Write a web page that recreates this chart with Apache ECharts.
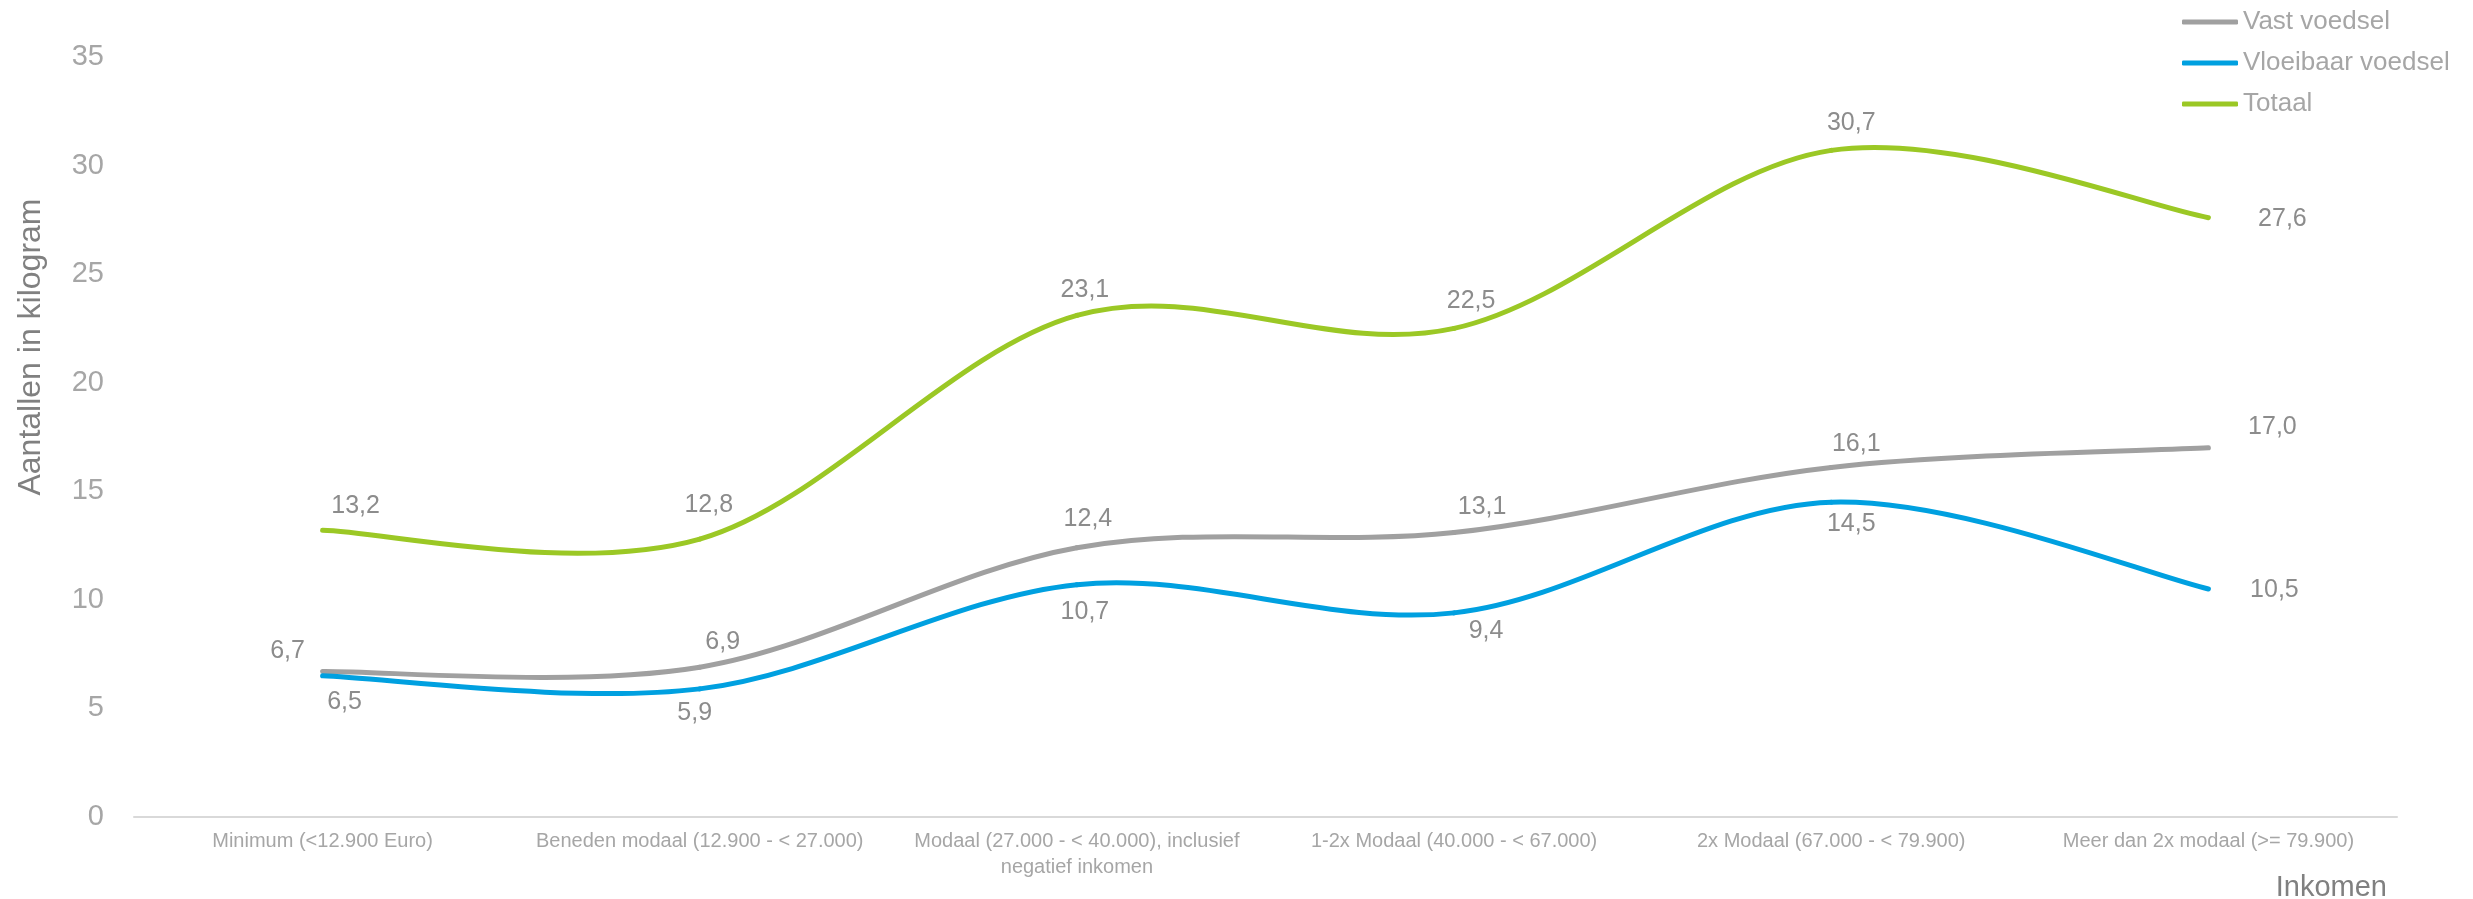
<!DOCTYPE html>
<html>
<head>
<meta charset="utf-8">
<script src="https://cdn.jsdelivr.net/npm/echarts@6/dist/echarts.min.js"></script>
<style>
html, body { margin: 0; padding: 0; background: #fff; }
#chart { width: 2473px; height: 899px; }
</style>
</head>
<body>
<div id="chart"></div>
<script>
// categorieen (inkomen)
var categories = [
    'Minimum (<12.900 Euro)',
    'Beneden modaal (12.900 - < 27.000)',
    'Modaal (27.000 - < 40.000), inclusief\nnegatief inkomen',
    '1-2x Modaal (40.000 - < 67.000)',
    '2x Modaal (67.000 - < 79.900)',
    'Meer dan 2x modaal (>= 79.900)'
];
var yTicks = [0, 5, 10, 15, 20, 25, 30, 35];

// waarden in kilogram
var vastVoedsel = [6.7, 6.9, 12.4, 13.1, 16.1, 17.0];
var vloeibaarVoedsel = [6.5, 5.9, 10.7, 9.4, 14.5, 10.5];
var totaal = [13.2, 12.8, 23.1, 22.5, 30.7, 27.6];

// plaats van de labels t.o.v. het punt (px)
var vastOffsets = [[-35, -20], [23, -25], [11, -29], [28, -25], [25, -23], [64, -21]];
var vloeibaarOffsets = [[22, 26], [-5, 24], [8, 27], [32, 18], [20, 22], [66, 1]];
var totaalOffsets = [[33, -24], [9, -34], [8, -25], [17, -27], [20, -27], [74, 1]];

var FONT = '"Liberation Sans", Arial, sans-serif';
var colors = { vast: '#A0A0A0', vloeibaar: '#00A0E0', totaal: '#9BC825' };

function buildData(values, offsets) {
    return values.map(function(v, i) {
        return { value: v, label: { offset: offsets[i] } };
    });
}

// lijn + labels (de lijn zelf wordt door de custom serie getekend)
function makeSeries(name, values, offsets, color) {
    return {
        name: name,
        type: 'line',
        data: buildData(values, offsets),
        symbol: 'circle',
        symbolSize: 0,
        lineStyle: { color: color, width: 0 },
        itemStyle: { color: color },
        z: 3,
        label: {
            show: true,
            position: 'inside',
            color: '#8C8C8C',
            fontFamily: FONT,
            fontSize: 25,
            formatter: function(p) {
                return p.value.toFixed(1).replace('.', ',');
            }
        }
    };
}

// vloeiende lijn zoals in Excel (Catmull-Rom), punten via api.coord
function makeCurve(id, values, color) {
    return {
        id: id,
        type: 'custom',
        data: values.map(function(v, i) { return [i, v]; }),
        encode: { x: 0, y: 1 },
        silent: true,
        z: 2,
        renderItem: function(params, api) {
            if (params.dataIndex !== 0) return null;
            var pts = values.map(function(v, i) { return api.coord([i, v]); });
            var children = [];
            for (var i = 0; i < pts.length - 1; i++) {
                var p0 = pts[i - 1] || pts[i];
                var p1 = pts[i];
                var p2 = pts[i + 1];
                var p3 = pts[i + 2] || p2;
                children.push({
                    type: 'bezierCurve',
                    shape: {
                        x1: p1[0], y1: p1[1],
                        x2: p2[0], y2: p2[1],
                        cpx1: p1[0] + (p2[0] - p0[0]) / 6,
                        cpy1: p1[1] + (p2[1] - p0[1]) / 6,
                        cpx2: p2[0] - (p3[0] - p1[0]) / 6,
                        cpy2: p2[1] - (p3[1] - p1[1]) / 6
                    },
                    style: { fill: null, stroke: color, lineWidth: 5, lineCap: 'round' }
                });
            }
            return { type: 'group', children: children };
        }
    };
}

var myEchart = echarts.init(document.getElementById('chart'));
var option = {
    animation: false,
    backgroundColor: '#fff',
    grid: { left: 134, right: 76, top: 57, bottom: 82 },
    legend: {
        orient: 'vertical',
        left: 2177,
        top: 2,
        itemWidth: 56,
        itemHeight: 5,
        itemGap: 11,
        icon: 'roundRect',
        textStyle: { color: '#A6A6A6', fontFamily: FONT, fontSize: 26, lineHeight: 30 },
        data: [
            { name: 'Vast voedsel', itemStyle: { color: colors.vast, borderWidth: 0 } },
            { name: 'Vloeibaar voedsel', itemStyle: { color: colors.vloeibaar, borderWidth: 0 } },
            { name: 'Totaal', itemStyle: { color: colors.totaal, borderWidth: 0 } }
        ]
    },
    xAxis: {
        type: 'category',
        data: categories,
        boundaryGap: true,
        axisLine: { lineStyle: { color: '#D9D9D9', width: 2 } },
        axisTick: { show: false },
        axisLabel: {
            interval: 0,
            color: '#A6A6A6',
            fontFamily: FONT,
            fontSize: 20,
            lineHeight: 26,
            margin: 11
        },
        splitLine: { show: false }
    },
    yAxis: {
        type: 'value',
        min: yTicks[0],
        max: yTicks[yTicks.length - 1],
        interval: yTicks[1] - yTicks[0],
        axisLine: { show: false },
        axisTick: { show: false },
        splitLine: { show: false },
        axisLabel: {
            color: '#A6A6A6',
            fontFamily: FONT,
            fontSize: 29,
            margin: 30
        }
    },
    graphic: [{
        type: 'text',
        x: 31,
        y: 347,
        rotation: Math.PI / 2,
        style: {
            text: 'Aantallen in kilogram',
            fill: '#808080',
            font: '32px ' + FONT,
            align: 'center',
            verticalAlign: 'middle'
        }
    }, {
        type: 'text',
        x: 2387,
        y: 888,
        style: {
            text: 'Inkomen',
            fill: '#808080',
            font: '29px ' + FONT,
            align: 'right',
            verticalAlign: 'middle'
        }
    }],
    series: [
        makeCurve('curveVast', vastVoedsel, colors.vast),
        makeCurve('curveVloeibaar', vloeibaarVoedsel, colors.vloeibaar),
        makeCurve('curveTotaal', totaal, colors.totaal),
        makeSeries('Vast voedsel', vastVoedsel, vastOffsets, colors.vast),
        makeSeries('Vloeibaar voedsel', vloeibaarVoedsel, vloeibaarOffsets, colors.vloeibaar),
        makeSeries('Totaal', totaal, totaalOffsets, colors.totaal)
    ]
};
myEchart.setOption(option);
</script>
</body>
</html>
